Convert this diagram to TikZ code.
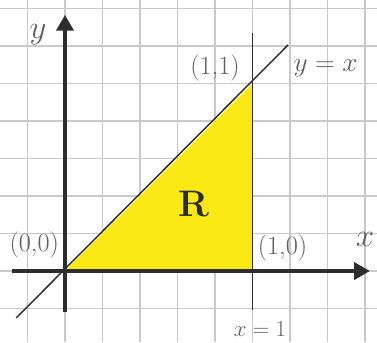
\documentclass[tikz,border=0pt]{standalone}
\usepackage{xcolor}
\usepackage{tikz}
\usetikzlibrary{arrows.meta}
\definecolor{hiyellow}{RGB}{250,232,20}
\definecolor{penblack}{RGB}{45,45,45}
\definecolor{pengray}{RGB}{95,95,95}
\definecolor{gridgray}{RGB}{200,200,205}

\begin{document}
\begin{tikzpicture}[
  axis/.style={-{Triangle[length=12pt,width=13pt]},line width=2.6pt,penblack},
  guide/.style={line width=1.1pt,penblack},
  lbl/.style={font=\fontsize{20}{22}\selectfont,text=pengray,inner sep=0pt},
  axlbl/.style={font=\fontsize{24}{26}\selectfont,text=pengray,inner sep=0pt}
]
\useasboundingbox (-1.733,-1.893) rectangle (8.32,7.227);

% Grid paper
\draw[gridgray,line width=0.9pt] (-1.733,-1.893) grid (8.32,7.227);

% Corners of R
\coordinate (O) at (0,0);
\coordinate (A) at (5,0);
\coordinate (B) at (5,5);

% Region R
\fill[hiyellow] (O) -- (A) -- (B) -- cycle;

% Line y = x and line x = 1
\coordinate (diag0) at (-1.3,-1.25);
\coordinate (diag1) at (5.95,6.03);
\coordinate (vert0) at (5,6.35);
\coordinate (vert1) at (5,-1.04);
\draw[guide] (diag0) -- (diag1);
\draw[guide] (vert0) -- (vert1);

% Axes
\coordinate (xstart) at (-1.41,0);
\coordinate (xend) at (8.13,0);
\coordinate (ystart) at (0,-1.09);
\coordinate (yend) at (0,6.83);
\draw[axis] (xstart) -- (xend);
\draw[axis] (ystart) -- (yend);

% Labels
\node[axlbl] (ylabel) at (-0.72,6.3) {$y$};
\node[axlbl] (xlabel) at (8.0,0.85) {$x$};
\node[lbl] (origin) at (-0.82,0.69) {(0,0)};
\node[lbl] (topcorner) at (4.0,5.41) {(1,1)};
\node[lbl] (diaglabel) at (6.95,5.41) {$y=x$};
\node[lbl] (rightcorner) at (5.8,0.62) {(1,0)};
\node[lbl,font=\fontsize{16}{18}\selectfont] (vertlabel) at (5.2,-1.55) {$x=1$};
\node[font=\fontsize{28}{30}\selectfont\bfseries,text=penblack,inner sep=0pt] (region) at (3.45,1.78) {R};

\end{tikzpicture}
\end{document}
